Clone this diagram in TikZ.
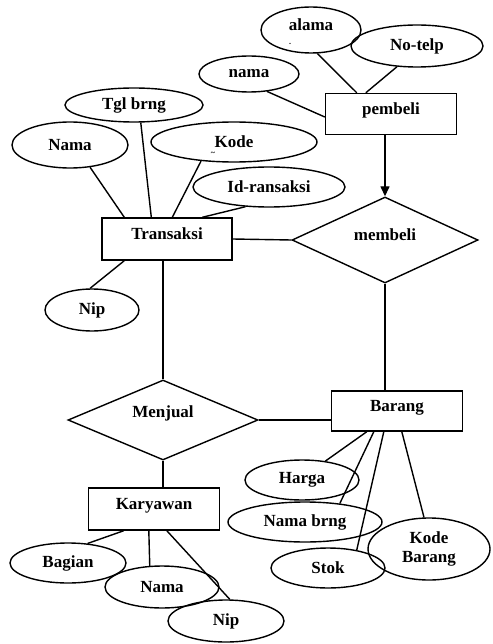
\documentclass[tikz,border=0pt]{standalone}
\usepackage{fontspec}
\setmainfont{Liberation Serif}
\usetikzlibrary{shapes.geometric,arrows.meta,calc}
\begin{document}
\begin{tikzpicture}[x=1pt,y=-1pt,
  every node/.style={font=\fontsize{17}{19}\selectfont\bfseries},
  attr/.style={draw,ellipse,inner sep=0pt,line width=1.4pt},
  ent/.style={draw,rectangle,inner sep=0pt,line width=1.4pt,text height=11pt,text depth=10pt},
  rel/.style={draw,diamond,inner sep=0pt,line width=1.4pt,aspect=2.2},
  conn/.style={line width=1.4pt},
  tiny/.style={font=\fontsize{8}{9}\selectfont\bfseries,inner sep=0pt}]
\useasboundingbox (0,0) rectangle (492,644);
% entities
\node[ent,minimum width=131pt,minimum height=41pt] (pemb) at (391,114) {pembeli};
\node[ent,minimum width=130pt,minimum height=42pt] (trans) at (167,239) {Transaksi};
\node[ent,minimum width=131pt,minimum height=40pt] (bar) at (397,411) {Barang};
\node[ent,minimum width=131pt,minimum height=42pt] (kar) at (154,509) {Karyawan};
% relations
\node[rel,minimum width=186pt,minimum height=86pt,text depth=10pt] (memb) at (385,240) {membeli};
\node[rel,minimum width=190pt,minimum height=80pt,text depth=16pt] (menj) at (163,420) {Menjual};
% attributes
\node[attr,minimum width=100pt,minimum height=46pt,text height=8pt,text depth=7pt] (alama) at (311,30) {alama};
\node[tiny] (alamadot) at (290,44) {.};
\node[attr,minimum width=132pt,minimum height=42pt] (notelp) at (417,46) {No-telp};
\node[attr,minimum width=100pt,minimum height=36pt] (nama) at (249,74) {nama};
\node[attr,minimum width=138pt,minimum height=34pt] (tgl) at (134,105) {Tgl brng};
\node[attr,minimum width=116pt,minimum height=46pt] (namaT) at (70,145) {Nama};
\node[attr,minimum width=166pt,minimum height=40pt] (kode) at (234,142) {Kode};
\node[tiny] (kodetilde) at (213,154) {\textasciitilde};
\node[attr,minimum width=152pt,minimum height=40pt] (idr) at (269,187) {Id-ransaksi};
\node[attr,minimum width=94pt,minimum height=42pt] (nipT) at (92,310) {Nip};
\node[attr,minimum width=114pt,minimum height=40pt] (harga) at (302,480) {Harga};
\node[attr,minimum width=154pt,minimum height=40pt] (namab) at (305,522) {Nama brng};
\node[attr,minimum width=114pt,minimum height=40pt] (stok) at (328,568) {Stok};
\node[attr,minimum width=122pt,minimum height=62pt,align=center] (kodeb) at (429,549) {Kode\\Barang};
\node[attr,minimum width=116pt,minimum height=40pt] (bagian) at (68,563) {Bagian};
\node[attr,minimum width=114pt,minimum height=42pt] (namaK) at (162,587) {Nama};
\node[attr,minimum width=116pt,minimum height=42pt] (nipK) at (226,621) {Nip};
% connectors
\draw[conn] (alama.-75) -- ($(pemb.north west)+(32,0)$);
\draw[conn] (notelp.-134) -- ($(pemb.north west)+(41,0)$);
\draw[conn] (nama.-44) -- ($(pemb.west)+(0,3)$);
\draw[conn,-{Triangle[length=10pt,width=9pt]}] ($(pemb.south)+(-6,0)$) -- (memb.north);
\draw[conn] (namaT.-48) -- ($(trans.north west)+(23,0)$);
\draw[conn] (tgl.-69) -- ($(trans.north west)+(50,0)$);
\draw[conn] (kode.-150) -- ($(trans.north west)+(71,0)$);
\draw[conn] (idr.-140) -- ($(trans.north west)+(101,0)$);
\draw[conn] ($(trans.south west)+(23,0)$) -- (nipT.95);
\draw[conn] (trans.east) -- (memb.west);
\draw[conn] ($(trans.south)+(-4,0)$) -- (menj.north);
\draw[conn] (memb.south) -- (memb.south |- bar.north);
\draw[conn] (menj.east) -- (menj.east -| bar.west);
\draw[conn] (menj.south) -- (menj.south |- kar.north);
\draw[conn] ($(kar.south west)+(36,0)$) -- (bagian.45);
\draw[conn] ($(kar.south west)+(61,0)$) -- (namaK.120);
\draw[conn] ($(kar.south west)+(79,0)$) -- (nipK.80);
\draw[conn] ($(bar.south west)+(36,0)$) -- (harga.39);
\draw[conn] ($(bar.south west)+(43,0)$) -- (namab.28);
\draw[conn] ($(bar.south west)+(53,0)$) -- (stok.32);
\draw[conn] ($(bar.south west)+(71,0)$) -- (kodeb.99);
\end{tikzpicture}
\end{document}
